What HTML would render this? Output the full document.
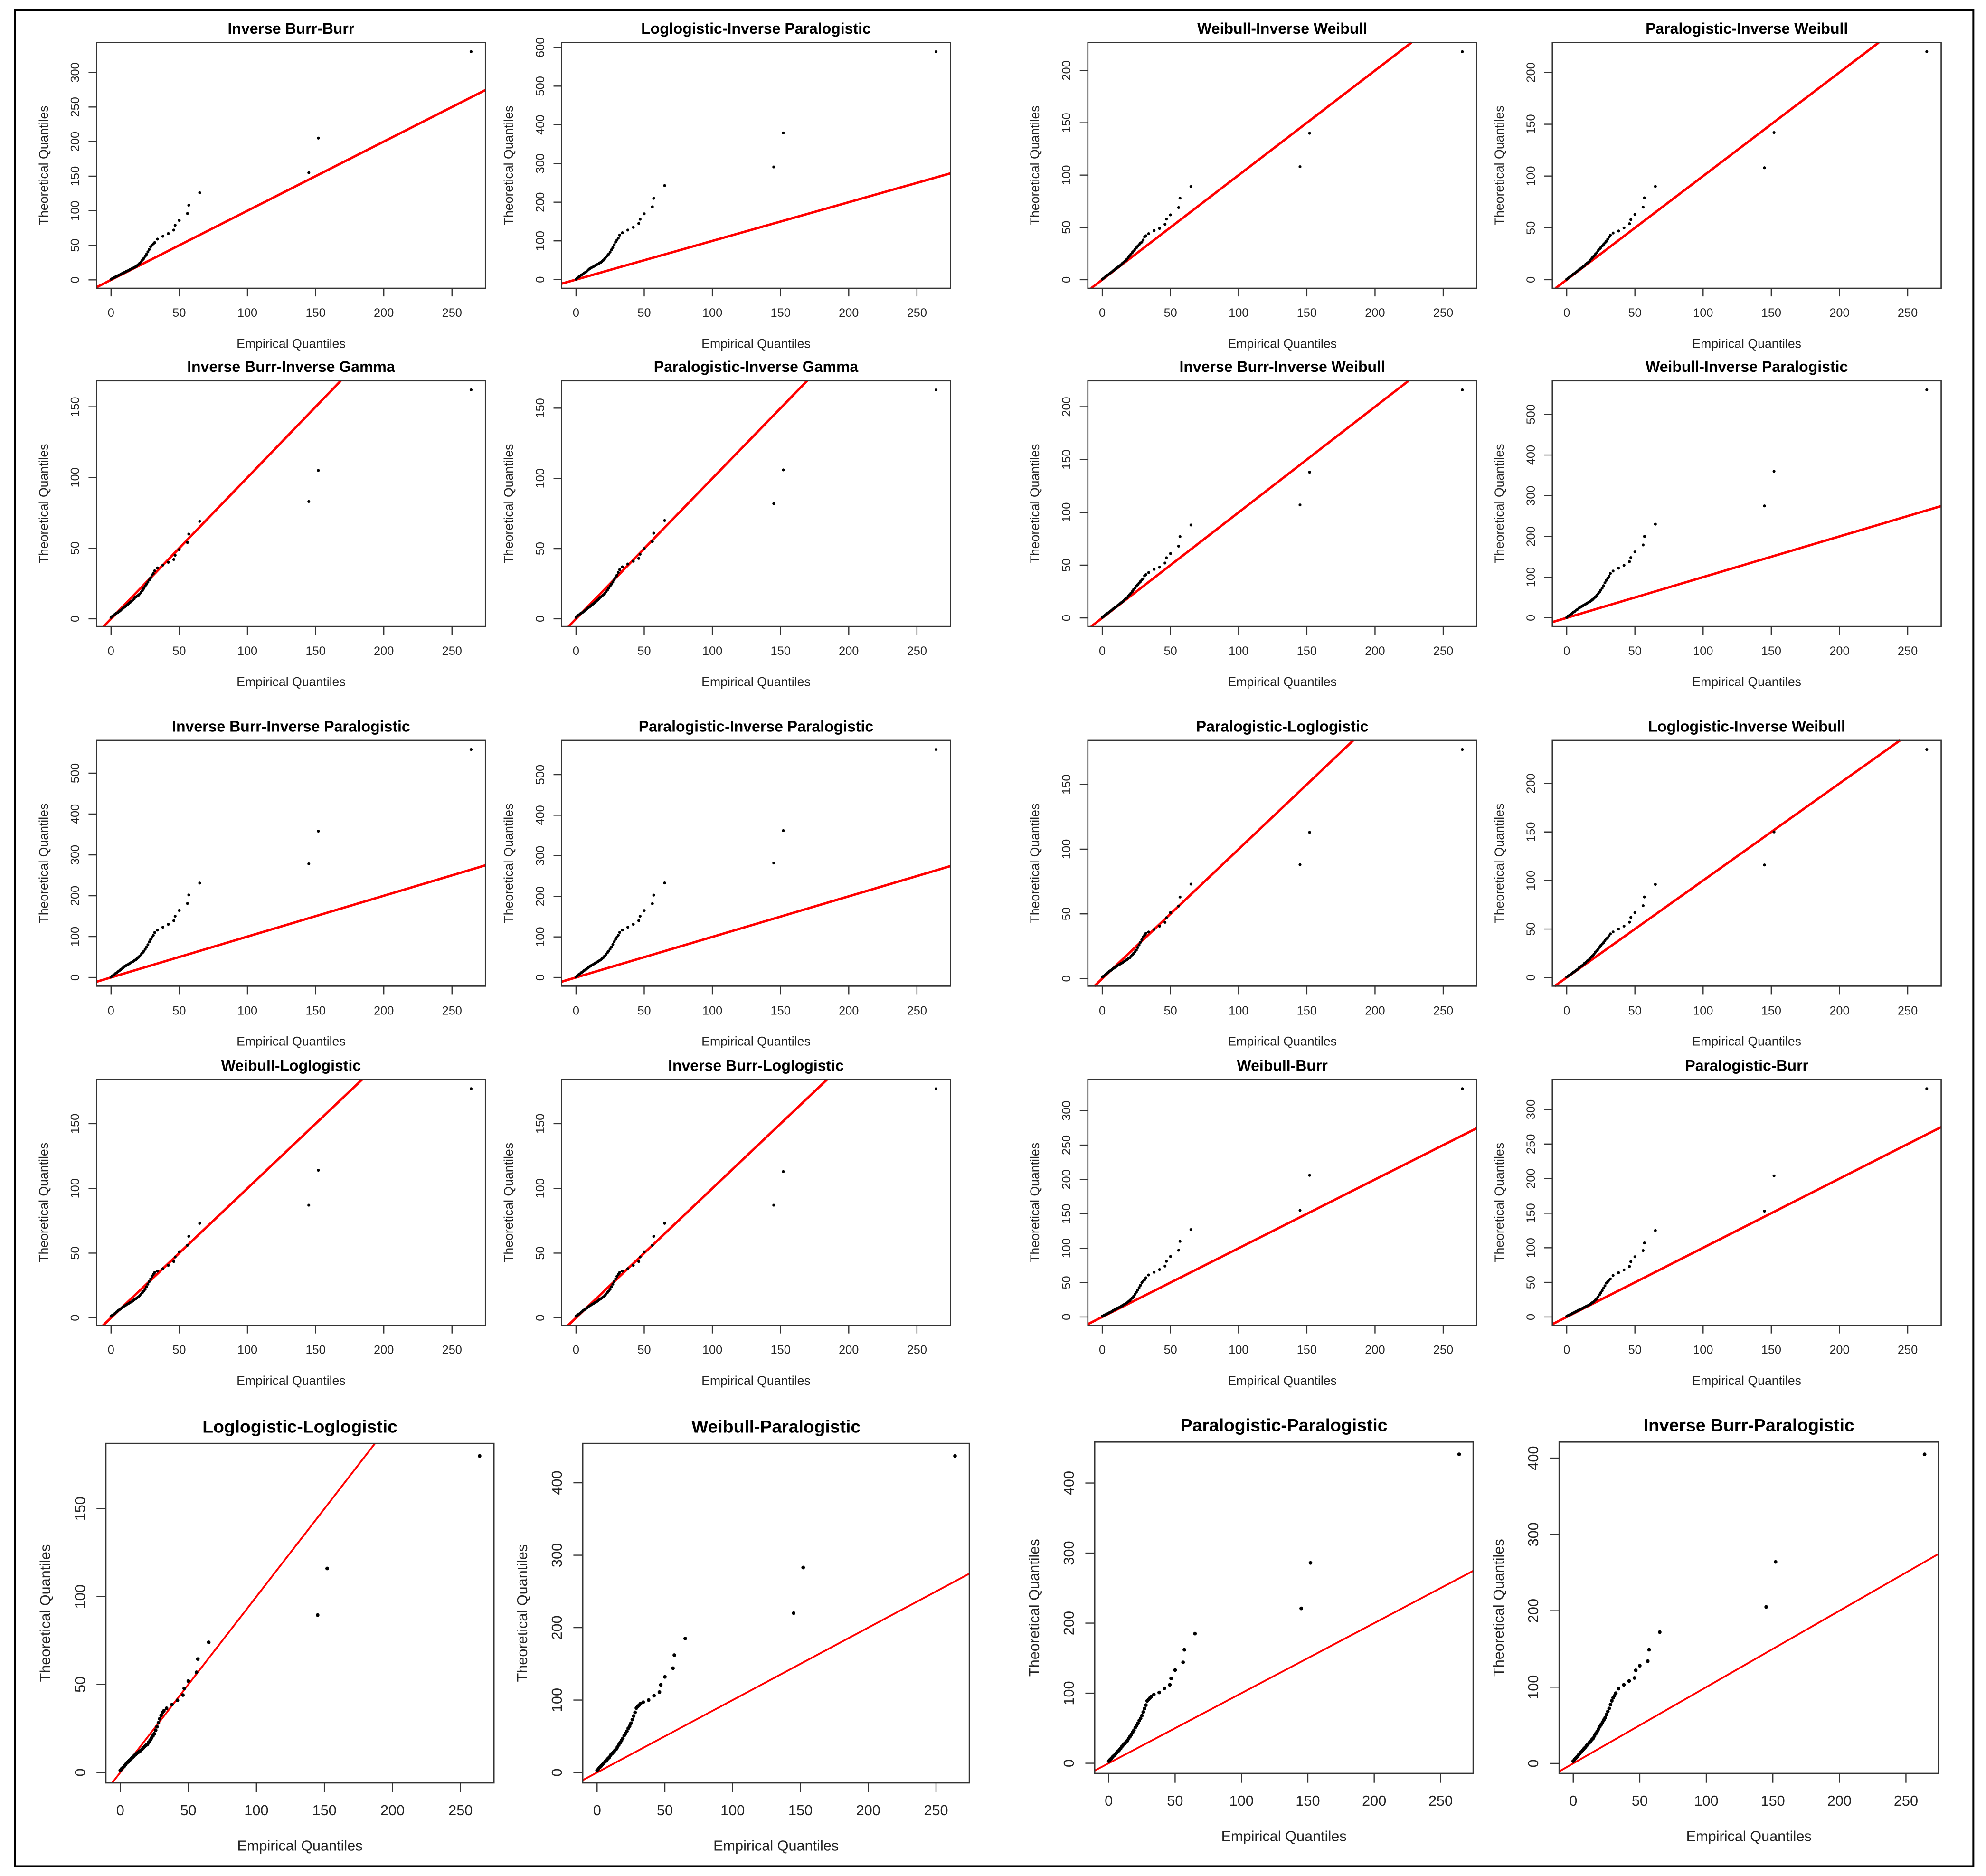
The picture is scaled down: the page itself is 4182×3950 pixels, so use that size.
<!DOCTYPE html>
<html>
<head>
<meta charset="utf-8">
<style>
html,body{margin:0;padding:0;background:#fff;width:4182px;height:3950px;overflow:hidden;}
svg{display:block;vertical-align:top;}
text{font-family:"Liberation Sans",Arial,sans-serif;}
</style>
</head>
<body>
<svg id="chart" xmlns="http://www.w3.org/2000/svg" width="4182" height="3950" viewBox="0 0 1568 1481" preserveAspectRatio="none">
<rect x="0" y="0" width="1568" height="1481" fill="#fff"/>
<rect x="11.8" y="8.2" width="1546.2" height="1465.1" fill="none" stroke="#000" stroke-width="1.5"/>
</svg>
<script>
// ---------- DATA ----------
const empirical = [0,1,2,3,4,5,6,7,8,9,10,11,12,13,14,15,16,17,18,19,20,21,22,23,24,25,26,27,28,29,30,31,32,34,38,42,46,47,50,56,57,65,145,152,264];
const xTicks = [0,50,100,150,200,250];

const titles = [
 "Inverse Burr-Burr","Loglogistic-Inverse Paralogistic","Weibull-Inverse Weibull","Paralogistic-Inverse Weibull",
 "Inverse Burr-Inverse Gamma","Paralogistic-Inverse Gamma","Inverse Burr-Inverse Weibull","Weibull-Inverse Paralogistic",
 "Inverse Burr-Inverse Paralogistic","Paralogistic-Inverse Paralogistic","Paralogistic-Loglogistic","Loglogistic-Inverse Weibull",
 "Weibull-Loglogistic","Inverse Burr-Loglogistic","Weibull-Burr","Paralogistic-Burr",
 "Loglogistic-Loglogistic","Weibull-Paralogistic","Paralogistic-Paralogistic","Inverse Burr-Paralogistic"
];

const theoInvBurrBurr = [1,2,3,4,5,6,7,8,9,10,11,12,13,14,15,16,17,18,19,20.5,22,24,26,28.5,31,34,37,40.5,44,48, 50,52,54,59,63,67,72,79,86,96,108,126,155,205,330];
const theoLoglogInvParalog = [1,4,7,9,12,14,17,19,22,25,28,30,32,34,36,38,40,42,44,47,50,54,58,62,66,71,77,83,90,97, 102,107,115,121,128,135,145,156,170,188,210,243,291,379,589];
const theoWeibullInvWeibull = [0.5,1.5,2.5,3.5,4.5,5.5,6.5,7.5,8.5,9.5,10.5,11.5,12.5,13.5,14.5,16,17,18,19.5,21,23,24.5,26,27.5,29,30.5,32,33.5,35,36, 38,41,42,44,47,49,53,58,62,69,78,89,108,140,218];
const theoParalogInvWeibull = [0.5,1.5,2.5,3.5,4.5,5.5,6.5,7.5,8.5,9.5,10.5,11.5,12.5,13.5,15,16,17,18.5,20,21.5,23,24.5,26,28,29.5,31,32.5,34,35.5,37, 39,41,43,45,47,50,54,58,63,70,79,90,108,142,220];
const theoInvBurrInvGamma = [1,1.8,2.6,3.4,4,4.5,5.2,6,6.8,7.6,8.5,9.2,10,10.8,11.6,12.5,13.3,14.2,15.4,16,16.6,17.6,18.8,20,21.5,23,24.5,26,27.5,29, 31,32,34,36,38,40,42,45,49,54,60,69,83,105,162];
const theoParalogInvGamma = [1,1.9,2.7,3.5,4.1,4.7,5.4,6.2,7,7.8,8.6,9.4,10.2,11,11.8,12.6,13.5,14.4,15.4,16.2,17,18,19.2,20.4,21.8,23.2,24.7,26.2,27.8,29.5, 31,33,35,37,39,41,43,46,50,55,61,70,82,106,163];
const theoInvBurrInvWeibull = [0.5,1.5,2.5,3.5,4.5,5.5,6.5,7.5,8.5,9.5,10.5,11.5,12.5,13.5,14.5,15.5,16.5,18,19,20.5,22,23.5,25,27,28.5,30,31.5,33,34.5,36, 37,40,41,43,46,48,52,57,61,68,77,88,107,138,216];
const theoWeibullInvParalog = [1,4,6,9,11,14,16,19,21,24,26,28,30,32,34,36,38,40,42,45,48,51,55,59,63,68,73,79,86,92, 97,102,109,115,122,129,138,148,162,179,200,230,275,360,560];
const theoInvBurrInvParalog = [1,4,6,9,11,14,16,19,21,24,27,29,31,33,35,37,39,41,43,46,49,52,56,60,64,69,74,80,87,93, 98,103,110,116,123,130,139,150,164,181,202,231,278,358,558];
const theoParalogInvParalog = [1,4,7,9,12,14,17,19,22,24,27,29,31,33,35,37,39,41,43,46,49,53,57,61,65,70,75,81,88,94, 99,104,111,117,124,131,140,151,165,182,203,233,282,362,562];
const theoParalogLoglog = [1.2,2,2.8,3.6,4.5,5.4,6.1,6.9,7.7,8.5,9.2,9.9,10.6,11.2,11.8,12.3,13.1,13.9,14.7,15.4,16,17.1,18.3,19.5,20.7,22,24,26,28,30, 32,33.5,35,36,38,40.5,43.5,47,51,56,63,73,88,113,177];
const theoLoglogInvWeibull = [0.5,1.5,2.5,3.5,4.5,5.5,6.5,7.5,8.5,10,11,12,13,14.5,15.5,17,18,19.5,21,22.5,24,26,27.5,29,31,33,34.5,36,38,40, 41,43,45,47,50,53,57,62,67,74,83,96,116,150,235];
const theoWeibullLoglog = [1.2,2,2.8,3.6,4.5,5.4,6.1,6.9,7.7,8.5,9.2,9.9,10.6,11.2,11.8,12.3,13.1,13.9,14.7,15.4,16,17.1,18.3,19.5,20.7,22,24,26,28,30, 32,33.5,35,36,38,40.5,43.5,47,51,56,63,73,87,114,177];
const theoInvBurrLoglog = [1.2,2,2.8,3.6,4.5,5.4,6.1,6.9,7.7,8.5,9.2,9.9,10.6,11.2,11.8,12.3,13.1,13.9,14.7,15.4,16,17.1,18.3,19.5,20.7,22,24,26,28,30, 32,33.5,35,36,38,40.5,43.5,47,51,56,63,73,87,113,177];
const theoWeibullBurr = [1,2,3,4,5,6,7,8,9.5,10.5,11.5,12.5,13.5,14.5,15.5,17,18,19,20.5,22,23.5,25.5,27.5,30,33,36,39,42.5,46,50, 52,54,57,61,65,69,74,81,88,97,110,127,155,206,332];
const theoParalogBurr = [1,2,3,4,5,6,7,8,9,10,11,12,13,14,15,16,17,18,19.5,21,22.5,24.5,26.5,29,32,35,38,41.5,45,49, 51,53,55,60,64,68,73,80,87,96,107,125,153,204,330];
const theoLoglogLoglog = [1.2,2,2.8,3.6,4.6,5.5,6.2,7,7.8,8.6,9.3,10,10.7,11.3,11.9,12.4,13.2,14,14.8,15.5,16,17.2,18.4,19.6,20.8,22,24,26,28.2,30.5, 32.5,34,35,36.5,38.6,41,44,47.8,52,57,64.5,74,89.5,116,180];
const theoWeibullParalog = [3,5,7,9,11,13,15,17,19,21,24,26,28,30,32,35,38,41,44,47,51,54,57,61,64,68,73,78,83,89, 91,93,95,97,100,106,111,121,132,144,162,185,220,283,437];
const theoParalogParalog = [3,5,7,9,11,13,15,17,19,21,24,26,28,30,32,35,38,41,44,47,51,54,57,61,64,68,73,78,83,89, 91,93,95,98,101,107,112,121,133,144,162,185,221,286,441];
const theoInvBurrParalog = [3,5,7,9,11,13,15,17,19,21,23,25,27,29,31,33,36,39,42,45,48,51,54,57,60,64,68,72,77,82, 86,88.6,92,98,103,108,112,122,128,134,149,172,205,264,405];

const yTicksBurr = [0,50,100,150,200,250,300];
const yTicksIP600 = [0,100,200,300,400,500,600];
const yTicksIP500 = [0,100,200,300,400,500];
const yTicksIW = [0,50,100,150,200];
const yTicksIG = [0,50,100,150];
const yTicksLL = [0,50,100,150];
const yTicksP = [0,100,200,300,400];

const theoSeries = [theoInvBurrBurr,theoLoglogInvParalog,theoWeibullInvWeibull,theoParalogInvWeibull,
 theoInvBurrInvGamma,theoParalogInvGamma,theoInvBurrInvWeibull,theoWeibullInvParalog,
 theoInvBurrInvParalog,theoParalogInvParalog,theoParalogLoglog,theoLoglogInvWeibull,
 theoWeibullLoglog,theoInvBurrLoglog,theoWeibullBurr,theoParalogBurr,
 theoLoglogLoglog,theoWeibullParalog,theoParalogParalog,theoInvBurrParalog];
const yTickSets = [yTicksBurr,yTicksIP600,yTicksIW,yTicksIW,
 yTicksIG,yTicksIG,yTicksIW,yTicksIP500,
 yTicksIP500,yTicksIP500,yTicksLL,yTicksIW,
 yTicksLL,yTicksLL,yTicksBurr,yTicksBurr,
 yTicksLL,yTicksP,yTicksP,yTicksP];

// ---------- LAYOUT ----------
const colX = [76.3,443.4,858.9,1225.6];
const rowY = [33.6,300.6,584.5,852.3];
const layout = [];
for (let r=0;r<4;r++) for (let c=0;c<4;c++) layout.push({x:colX[c],y:rowY[r],w:307,h:194,big:false});
layout.push({x:83.6,y:1139.5,w:306.4,h:268,big:true});
layout.push({x:460.1,y:1139.5,w:305.2,h:268,big:true});
layout.push({x:864.3,y:1138.4,w:298.8,h:261.6,big:true});
layout.push({x:1231,y:1138.4,w:299.6,h:261.6,big:true});

const NS = "http://www.w3.org/2000/svg";
const svg = document.getElementById('chart');
function mk(tag, attrs, parent){
  const e = document.createElementNS(NS, tag);
  for (const k in attrs) e.setAttribute(k, attrs[k]);
  parent.appendChild(e);
  return e;
}
function slug(s){return s.toLowerCase().replace(/[^a-z0-9]+/g,'-');}

titles.forEach((title, i) => {
  const L = layout[i];
  const xs = empirical, ys = theoSeries[i];
  const xmn = Math.min(...xs), xmx = Math.max(...xs);
  const ymn = Math.min(...ys), ymx = Math.max(...ys);
  const x0 = xmn - 0.04*(xmx-xmn), x1 = xmx + 0.04*(xmx-xmn);
  const y0 = ymn - 0.04*(ymx-ymn), y1 = ymx + 0.04*(ymx-ymn);
  const sx = v => L.x + (v - x0)/(x1 - x0)*L.w;
  const sy = v => L.y + L.h - (v - y0)/(y1 - y0)*L.h;
  const bottom = L.y + L.h;
  const big = L.big;
  const tl = big ? 7.4 : 6.4;
  const tickFs = big ? 11.5 : 9.5;
  const labFs = big ? 11.5 : 10;

  const g = mk('g', {}, svg);
  
  

  // reference line y = x, clipped analytically to the plot region
  const lo = Math.max(x0, y0), hi = Math.min(x1, y1);
  const ref = mk('line', {x1:sx(lo), y1:sy(lo), x2:sx(hi), y2:sy(hi), stroke:'#f00', 'stroke-width': big?1.4:1.9}, g);
  
  

  const pts = mk('g', {fill:'#000'}, g);
  
  
  for (let k=0;k<xs.length;k++){
    const p = mk('circle', {cx:sx(xs[k]), cy:sy(ys[k]), r: big?1.45:1.15}, pts);
    
    
  }

  const box = mk('rect', {x:L.x, y:L.y, width:L.w, height:L.h, fill:'none', stroke:'#333', 'stroke-width':1}, g);
  
  

  const xa = mk('g', {}, g);
  
  
  xTicks.forEach(t => {
    const X = sx(t);
    mk('line', {x1:X, y1:bottom, x2:X, y2:bottom+tl, stroke:'#333', 'stroke-width':0.9}, xa);
    const tx = mk('text', {x:X, y:bottom+(big?25.5:22.5), 'font-size':tickFs, 'text-anchor':'middle', fill:'#222'}, xa);
    tx.textContent = String(t);
    
    
  });

  const ya = mk('g', {}, g);
  
  
  yTickSets[i].forEach(t => {
    const Y = sy(t);
    if (Y < L.y - 0.5 || Y > bottom + 0.5) return;
    mk('line', {x1:L.x, y1:Y, x2:L.x-tl, y2:Y, stroke:'#333', 'stroke-width':0.9}, ya);
    const bx = L.x - (big?16.5:13.8);
    const ty = mk('text', {x:bx, y:Y, 'font-size':tickFs, 'text-anchor':'middle', fill:'#222', transform:'rotate(-90 '+bx+' '+Y+')'}, ya);
    ty.textContent = String(t);
    
    
  });

  const cx = L.x + L.w/2, cy = L.y + L.h/2;
  const tt = mk('text', {x:cx, y:L.y-(big?8.5:7), 'font-size': big?14:12, 'font-weight':'bold', 'text-anchor':'middle', fill:'#000'}, g);
  tt.textContent = title;
  
  

  const xl = mk('text', {x:cx, y:bottom+(big?53.5:47), 'font-size':labFs, 'text-anchor':'middle', fill:'#222'}, g);
  xl.textContent = 'Empirical Quantiles';
  
  

  const lx = L.x - (big?44:38.5);
  const yl = mk('text', {x:lx, y:cy, 'font-size':labFs, 'text-anchor':'middle', fill:'#222', transform:'rotate(-90 '+lx+' '+cy+')'}, g);
  yl.textContent = 'Theoretical Quantiles';
  
  
});
</script>
</body>
</html>
